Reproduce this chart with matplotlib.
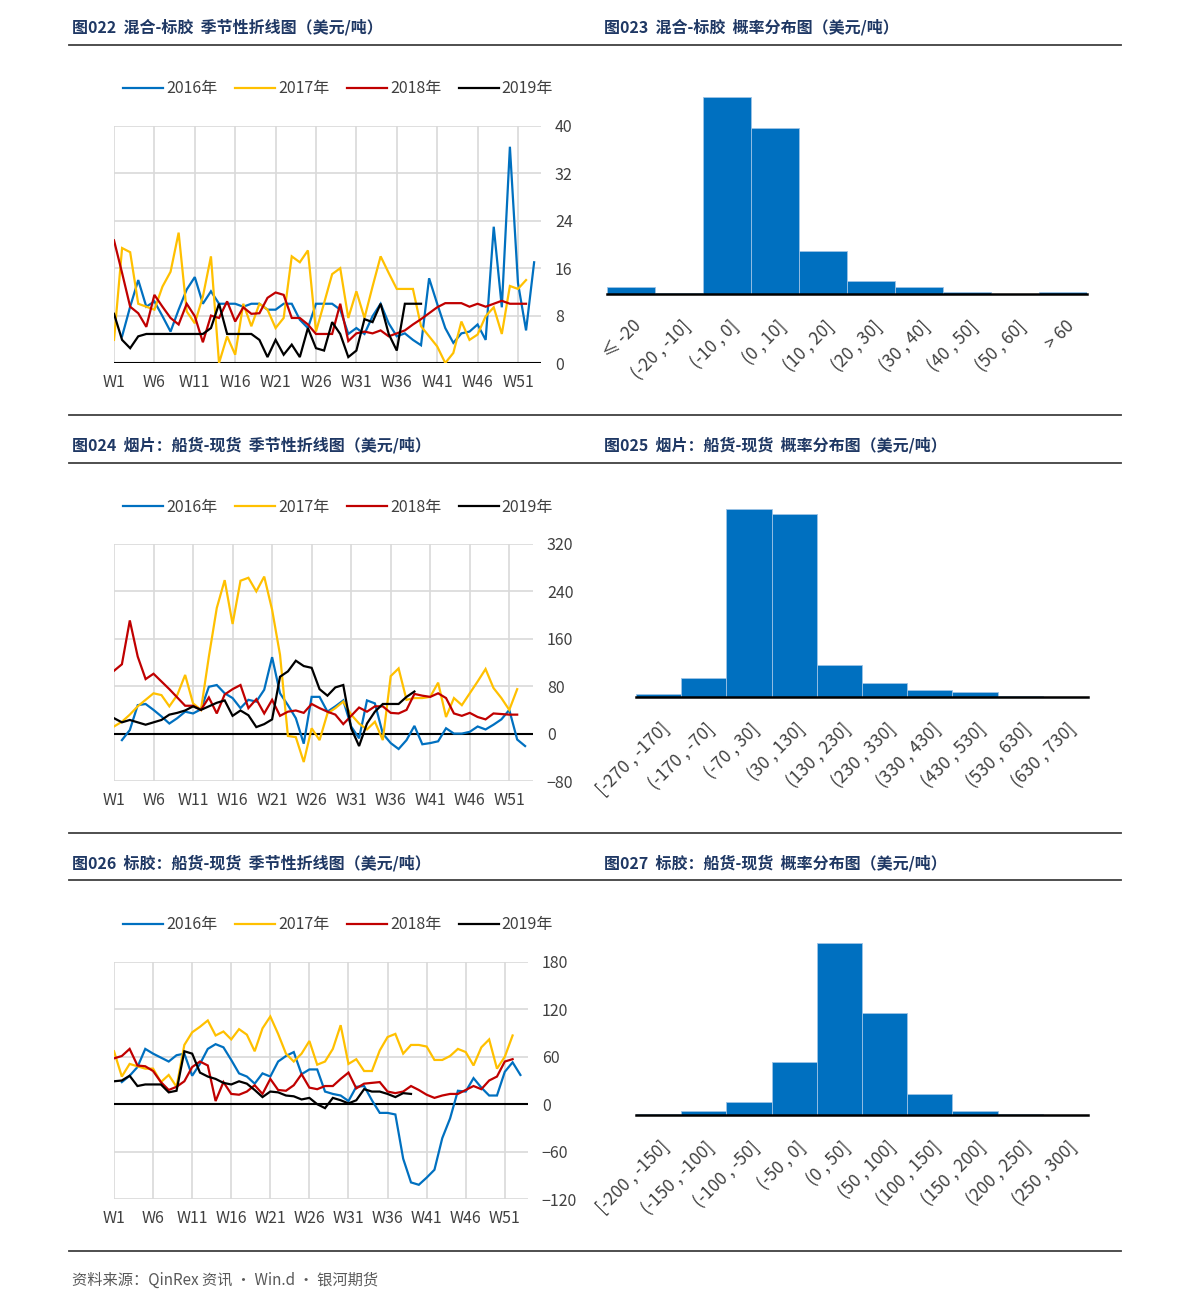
import numpy as np
import matplotlib
matplotlib.use("Agg")
import matplotlib.pyplot as plt
from matplotlib.lines import Line2D

plt.rcParams['font.family'] = ['Noto Sans CJK SC', 'DejaVu Sans']

nan = np.nan
weeks = list(range(1, 54))
week_ticks = list(range(1, 52, 5))
week_labels = [f"W{w}" for w in week_ticks]
years = ["2016年", "2017年", "2018年", "2019年"]
colors = ["#0070C0", "#FFC000", "#C00000", "#000000"]

# ---- Chart 022: 混合-标胶 ----
s16_a = [nan, 4.5, 9.5, 14, 9.5, 10.4, 7.9, 5.3, 9, 12.4, 14.5, 10, 12.1, 10, 10, 10, 9.5, 10, 10, 9,
         9, 10, 10, 7.3, 5.9, 10, 10, 10, 9, 4.9, 5.9, 4.9, 7.9, 10, 6.7, 4.5, 5, 3.9, 3, 14.3,
         10, 5.9, 3.4, 5, 5.3, 6.5, 3.9, 23, 9.4, 36.5, 13.5, 5.5, 17]
s17_a = [3.9, 19.4, 18.7, 10, 9.5, 9, 12.9, 15.4, 22, 8.7, 6.7, 11.2, 18, 0, 4.5, 1.4, 10, 6.2, 10, 9,
         5.9, 7.6, 18, 17, 19, 5.3, 10.1, 15, 16, 7.6, 12.1, 7.6, 12.9, 18, 15.2, 12.5, 12.5, 12.5, 6.2, 4.5,
         2.8, 0, 1.7, 7, 3.9, 4.8, 7.9, 9.4, 4.9, 13, 12.5, 14, nan]
s18_a = [20.7, 15.2, 9.5, 8.4, 6.1, 11.5, 9.5, 7.6, 6.5, 10, 7.9, 3.5, 8, 7.6, 10.4, 7, 9.4, 8.3, 8.4, 11,
         11.9, 11.5, 7.6, 7.6, 6.5, 4.9, 4.9, 4.9, 10, 3.7, 5, 5.3, 5, 5.5, 4.5, 5, 5.5, 6.5, 7.4, 8.4,
         9.4, 10.1, 10.1, 10.1, 9.5, 10, 9.5, 10, 10.5, 10, 10, 10, nan]
s19_a = [8.3, 3.9, 2.5, 4.5, 4.9, 4.9, 4.9, 4.9, 4.9, 4.9, 4.9, 4.9, 5.9, 10, 4.9, 4.9, 4.9, 4.9, 3.9, 1,
         3.9, 1.4, 3.1, 1, 5.9, 2.5, 2.1, 6.9, 4.9, 1, 2.1, 7.4, 6.9, 10, 4.9, 2.1, 10, 10, 10] + [nan] * 14

# ---- Chart 024: 烟片 船货-现货 ----
s16_b = [nan, -11, 6, 48, 50, 40, 29, 17, 26, 37, 34, 41, 79, 82, 68, 60, 43, 57, 54, 74,
         129, 68, 48, 26, -17, 62, 62, 37, 46, 56, 12, -8, 56, 51, 0, -16, -26, -11, 13, -18,
         -16, -13, 9, 0, 0, 3, 12, 7, 15, 24, 40, -10, -21]
s17_b = [12, 20, 32, 46, 57, 68, 65, 46, 65, 99, 51, 40, 130, 212, 259, 185, 258, 263, 240, 265,
         209, 133, -4, -6, -48, 9, -11, 34, 43, 54, 32, 17, 7, 20, -11, 97, 110, 57, 60, 60,
         62, 86, 28, 60, 48, 68, 88, 109, 77, 60, 40, 75, nan]
s18_b = [106, 117, 191, 130, 92, 101, 88, 75, 61, 47, 47, 40, 61, 34, 66, 75, 82, 43, 58, 34,
         57, 30, 37, 39, 35, 50, 43, 37, 32, 16, 30, 44, 37, 46, 46, 35, 34, 40, 67, 64,
         62, 68, 60, 34, 30, 35, 28, 24, 34, 33, 32, 32, nan]
s19_b = [26, 19, 23, 19, 15, 19, 23, 32, 35, 39, 46, 40, 46, 52, 56, 30, 39, 31, 11, 16,
         24, 96, 105, 123, 114, 111, 75, 64, 78, 82, 9, -21, 17, 37, 50, 50, 50, 62, 71] + [nan] * 14

# ---- Chart 026: 标胶 船货-现货 ----
s16_c = [nan, 28, 36, 47, 70, 64, 59, 54, 62, 64, 36, 51, 70, 76, 72, 56, 39, 35, 26, 39,
         35, 54, 61, 66, 38, 44, 44, 16, 13, 11, 4, 22, 23, 5, -11, -11, -13, -69, -99, -102,
         -93, -83, -43, -18, 17, 16, 33, 21, 11, 11, 41, 53, 37]
s17_c = [67, 35, 51, 48, 45, 45, 28, 37, 22, 75, 91, 98, 106, 87, 92, 82, 95, 88, 67, 96,
         111, 89, 64, 54, 64, 80, 50, 54, 70, 100, 51, 57, 42, 42, 68, 85, 89, 64, 75, 75,
         73, 56, 56, 61, 70, 66, 49, 72, 82, 45, 60, 87, nan]
s18_c = [58, 61, 70, 49, 48, 42, 28, 18, 22, 29, 47, 54, 49, 4, 28, 13, 12, 16, 24, 13,
         32, 18, 17, 24, 38, 21, 19, 23, 23, 32, 40, 20, 26, 27, 28, 16, 14, 16, 23, 18,
         12, 8, 11, 13, 13, 18, 23, 19, 30, 35, 54, 57, nan]
s19_c = [29, 30, 36, 23, 25, 25, 25, 15, 17, 67, 64, 40, 35, 32, 27, 25, 29, 26, 18, 9,
         16, 15, 11, 10, 6, 8, 0, -5, 8, 5, 1, 5, 19, 16, 16, 13, 9, 14, 13] + [nan] * 14

# ---- Histograms (probability, %) ----
bins_a = ["≤ -20", "(-20 , -10]", "(-10 , 0]", "(0 , 10]", "(10 , 20]", "(20 , 30]",
          "(30 , 40]", "(40 , 50]", "(50 , 60]", "> 60"]
prob_a = [1.6, 0.2, 44.9, 37.8, 9.9, 3.0, 1.5, 0.5, 0.1, 0.5]
bins_b = ["[-270 , -170]", "(-170 , -70]", "(-70 , 30]", "(30 , 130]", "(130 , 230]", "(230 , 330]",
          "(330 , 430]", "(430 , 530]", "(530 , 630]", "(630 , 730]"]
prob_b = [0.6, 4.2, 41.7, 40.5, 7.0, 3.0, 1.6, 1.1, 0.3, 0.1]
bins_c = ["[-200 , -150]", "(-150 , -100]", "(-100 , -50]", "(-50 , 0]", "(0 , 50]", "(50 , 100]",
          "(100 , 150]", "(150 , 200]", "(200 , 250]", "(250 , 300]"]
prob_c = [0.2, 1.1, 3.4, 14.3, 46.5, 27.5, 5.6, 1.0, 0.4, 0.1]

W, H = 1191, 1309
fig = plt.figure(figsize=(W / 100, H / 100), dpi=100)
fig.patch.set_facecolor("white")

TXT = "#404040"
NAVY = "#1F3864"


def rect(l, t, r, b):
    return [l / W, 1 - b / H, (r - l) / W, (b - t) / H]


def line_chart(box, xmax, series, yticks, legend_y):
    ax = fig.add_axes(rect(*box))
    for s, c in zip(series, colors):
        ax.plot(weeks, s, color=c, lw=1.6, solid_joinstyle="miter")
    ax.set_xlim(1, xmax)
    ax.set_ylim(yticks[0], yticks[-1])
    ax.set_yticks(yticks)
    ax.set_xticks(week_ticks)
    ax.set_xticklabels(week_labels)
    ax.yaxis.tick_right()
    ax.tick_params(axis="both", length=0, labelsize=11.5, colors=TXT)
    ax.tick_params(axis="y", pad=10)
    ax.tick_params(axis="x", pad=8)
    ax.grid(True, color="#D9D9D9", lw=1.2)
    ax.set_axisbelow(True)
    for sp in ax.spines.values():
        sp.set_visible(False)
    ax.axhline(0, color="#000000", lw=1.5, zorder=1.5)
    handles = [Line2D([], [], color=c, lw=1.6) for c in colors]
    fig.legend(handles, years, loc="center", bbox_to_anchor=(338 / W, 1 - legend_y / H),
               ncol=4, frameon=False, fontsize=11.5, handlelength=2.5, handletextpad=0.2,
               columnspacing=1.1, labelcolor=TXT)
    return ax


def hist_chart(box, labels, vals):
    ax = fig.add_axes(rect(*box))
    x = np.arange(len(vals))
    ax.bar(x, vals, width=1.0, color="#0070C0", edgecolor="#9DC3E6", linewidth=0.6)
    ax.set_xlim(-0.5, len(vals) - 0.5)
    ax.set_ylim(0, max(vals))
    ax.set_yticks([])
    ax.set_xticks(x + 0.17)
    ax.set_xticklabels(labels, rotation=45, ha="right", va="center", rotation_mode="anchor")
    ax.tick_params(axis="x", length=0, labelsize=12.5, colors=TXT, pad=21)
    for k in ("top", "left", "right"):
        ax.spines[k].set_visible(False)
    ax.spines["bottom"].set_color("#000000")
    ax.spines["bottom"].set_linewidth(1.8)
    return ax


line_chart((114, 126, 541, 363), 53.85, [s16_a, s17_a, s18_a, s19_a], [0, 8, 16, 24, 32, 40], 89)
line_chart((114, 544, 533, 781), 54.0, [s16_b, s17_b, s18_b, s19_b], [-80, 0, 80, 160, 240, 320], 507)
line_chart((114, 962, 528, 1199), 53.97, [s16_c, s17_c, s18_c, s19_c], [-120, -60, 0, 60, 120, 180], 925)

hist_chart((607, 97, 1087, 294), bins_a, prob_a)
hist_chart((636, 509, 1088, 697), bins_b, prob_b)
hist_chart((636, 943, 1088, 1115), bins_c, prob_c)

# titles
titles = [
    (72, 27, "图022  混合-标胶  季节性折线图（美元/吨）"),
    (604, 27, "图023  混合-标胶  概率分布图（美元/吨）"),
    (72, 445, "图024  烟片：船货-现货  季节性折线图（美元/吨）"),
    (604, 445, "图025  烟片：船货-现货  概率分布图（美元/吨）"),
    (72, 863, "图026  标胶：船货-现货  季节性折线图（美元/吨）"),
    (604, 863, "图027  标胶：船货-现货  概率分布图（美元/吨）"),
]
for x, y, t in titles:
    fig.text(x / W, 1 - y / H, t, fontsize=11.5, fontweight="bold", color=NAVY,
             ha="left", va="center")

for y in (45, 415, 463, 833, 880, 1251):
    fig.add_artist(Line2D([69 / W, 1121 / W], [1 - y / H, 1 - y / H], color="#404040", lw=1.3))

fig.text(72 / W, 1 - 1280 / H, "资料来源：QinRex 资讯 · Win.d · 银河期货", fontsize=11,
         color="#595959", ha="left", va="center")

fig.savefig("out.png", dpi=100, facecolor="white")
